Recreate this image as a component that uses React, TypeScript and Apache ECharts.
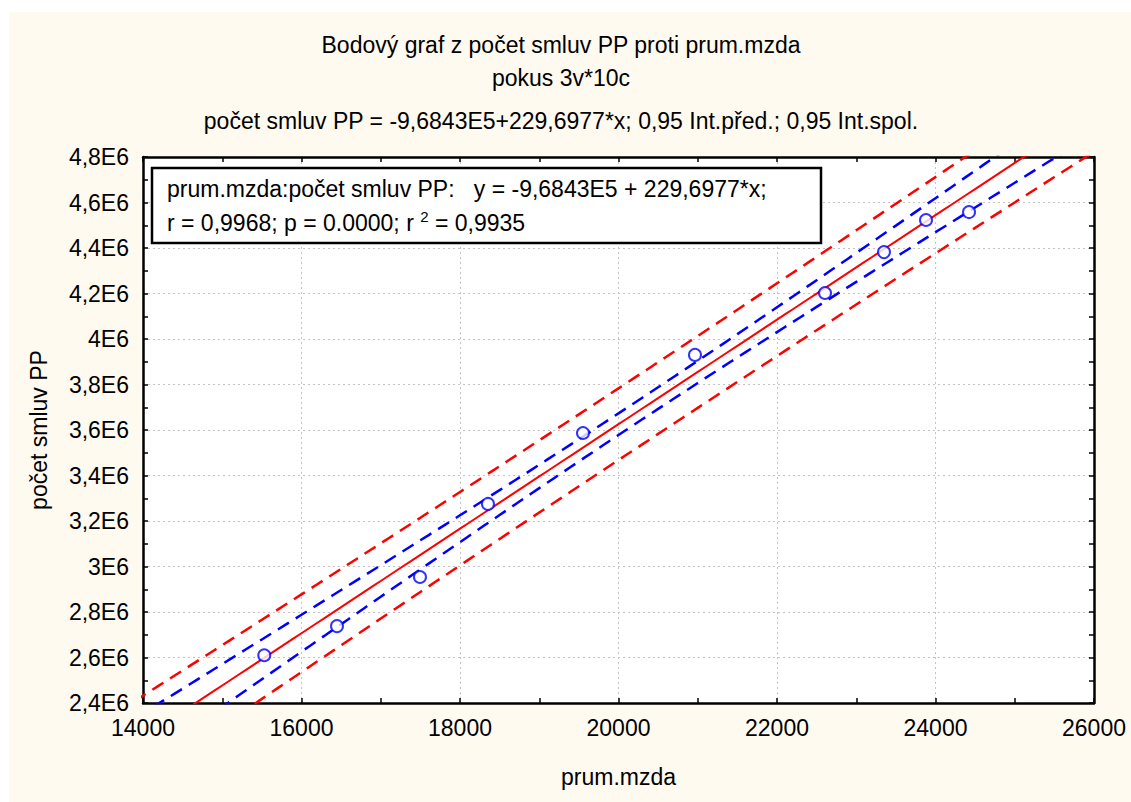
import React, { useEffect, useRef } from "react";
import * as echarts from "echarts";

// prum.mzda (x) and počet smluv PP (y), one entry per case
const PRUM_MZDA = [15530, 16448, 17495, 18353, 19552, 20965, 22606, 23350, 23880, 24423];
const POCET_SMLUV = [2610000, 2738000, 2954000, 3275000, 3587000, 3930000, 4202000, 4382000, 4523000, 4558000];

// fitted line as reported: y = -9,6843E5 + 229,6977*x
const INTERCEPT = -968430;
const SLOPE = 229.6977;
// two-sided 0.95 t quantile for n - 2 = 8 degrees of freedom
const T_975_DF8 = 2.306;

const X_TICK_LABELS = ["14000", "16000", "18000", "20000", "22000", "24000", "26000"];
const Y_TICKS = [2400000, 2600000, 2800000, 3000000, 3200000, 3400000, 3600000, 3800000, 4000000, 4200000, 4400000, 4600000, 4800000];
const Y_TICK_LABELS = ["2,4E6", "2,6E6", "2,8E6", "3E6", "3,2E6", "3,4E6", "3,6E6", "3,8E6", "4E6", "4,2E6", "4,4E6", "4,6E6", "4,8E6"];

const TITLE_LINES = [
  "Bodový graf z počet smluv PP proti prum.mzda",
  "pokus 3v*10c",
  "počet smluv PP = -9,6843E5+229,6977*x; 0,95 Int.před.; 0,95 Int.spol.",
];

const FONT = "'Liberation Sans', Arial, sans-serif";
const FS = 23;

// regression line and 0.95 confidence / prediction bands from the sample
function buildBands() {
  const n = PRUM_MZDA.length;
  const meanX = PRUM_MZDA.reduce((a, b) => a + b, 0) / n;
  const sxx = PRUM_MZDA.reduce((a, x) => a + (x - meanX) * (x - meanX), 0);
  const ssr = PRUM_MZDA.reduce((a, x, i) => {
    const r = POCET_SMLUV[i] - (INTERCEPT + SLOPE * x);
    return a + r * r;
  }, 0);
  const s = Math.sqrt(ssr / (n - 2));
  const fit: number[][] = [];
  const confLo: number[][] = [];
  const confHi: number[][] = [];
  const predLo: number[][] = [];
  const predHi: number[][] = [];
  for (let x = 13000; x <= 27000; x += 100) {
    const yhat = INTERCEPT + SLOPE * x;
    const lev = 1 / n + ((x - meanX) * (x - meanX)) / sxx;
    const c = T_975_DF8 * s * Math.sqrt(lev);
    const p = T_975_DF8 * s * Math.sqrt(1 + lev);
    fit.push([x, yhat]);
    confLo.push([x, yhat - c]);
    confHi.push([x, yhat + c]);
    predLo.push([x, yhat - p]);
    predHi.push([x, yhat + p]);
  }
  return { fit, confLo, confHi, predLo, predHi };
}

export default function App() {
  const ref = useRef<HTMLDivElement>(null);

  useEffect(() => {
    if (!ref.current) return;
    const chart = echarts.init(ref.current, undefined, { renderer: "svg" });
    const { fit, confLo, confHi, predLo, predHi } = buildBands();
    const points = PRUM_MZDA.map((x, i) => [x, POCET_SMLUV[i]]);

    const tickStyle = { inside: true, length: 5, lineStyle: { color: "#000", width: 1.5 } };
    const minorStyle = { show: true, splitNumber: 2, length: 5, lineStyle: { color: "#000", width: 1.5 } };
    const axisLine = { show: true, onZero: false, lineStyle: { color: "#000", width: 2.5 } };
    const grid = { type: [2, 3], color: "#c4c4c4", width: 1 };

    const dashed = (data: number[][], color: string) => ({
      type: "line",
      data,
      showSymbol: false,
      symbol: "none",
      clip: true,
      lineStyle: { color, width: 2.5, type: [13, 8] },
      z: 3,
    });

    chart.setOption({
      animation: false,
      backgroundColor: "#ffffff",
      textStyle: { fontFamily: FONT },
      grid: {
        left: 143,
        top: 157,
        width: 951,
        height: 546,
        show: true,
        backgroundColor: "#ffffff",
        borderWidth: 0,
      },
      xAxis: [
        {
          type: "value",
          min: 14000,
          max: 26000,
          interval: 2000,
          position: "bottom",
          axisLine,
          axisTick: tickStyle,
          minorTick: minorStyle,
          splitLine: { show: true, lineStyle: grid },
          axisLabel: {
            margin: 13,
            color: "#000",
            fontSize: FS,
            fontFamily: FONT,
            formatter: (v: number) => X_TICK_LABELS[Math.round((v - 14000) / 2000)] ?? "",
          },
          name: "prum.mzda",
          nameLocation: "middle",
          nameGap: 62,
          nameTextStyle: { color: "#000", fontSize: FS, fontFamily: FONT },
        },
        {
          type: "value",
          min: 14000,
          max: 26000,
          interval: 2000,
          position: "top",
          axisLine,
          axisTick: tickStyle,
          minorTick: minorStyle,
          splitLine: { show: false },
          axisLabel: { show: false },
        },
      ],
      yAxis: [
        {
          type: "value",
          min: 2400000,
          max: 4800000,
          interval: 200000,
          position: "left",
          axisLine,
          axisTick: tickStyle,
          minorTick: minorStyle,
          splitLine: { show: true, lineStyle: grid },
          axisLabel: {
            margin: 14,
            color: "#000",
            fontSize: FS,
            fontFamily: FONT,
            formatter: (v: number) => {
              const i = Y_TICKS.findIndex((t) => Math.abs(t - v) < 1);
              return i >= 0 ? Y_TICK_LABELS[i] : "";
            },
          },
          name: "počet smluv PP",
          nameLocation: "middle",
          nameGap: 93,
          nameTextStyle: { color: "#000", fontSize: FS, fontFamily: FONT },
        },
        {
          type: "value",
          min: 2400000,
          max: 4800000,
          interval: 200000,
          position: "right",
          axisLine,
          axisTick: tickStyle,
          minorTick: minorStyle,
          splitLine: { show: false },
          axisLabel: { show: false },
        },
      ],
      series: [
        dashed(predLo, "#ff0000"),
        dashed(predHi, "#ff0000"),
        dashed(confLo, "#0000ff"),
        dashed(confHi, "#0000ff"),
        {
          type: "line",
          data: fit,
          showSymbol: false,
          symbol: "none",
          clip: true,
          lineStyle: { color: "#ff0000", width: 2 },
          z: 4,
        },
        {
          type: "scatter",
          data: points,
          symbol: "emptyCircle",
          symbolSize: 12,
          itemStyle: { color: "#0000ff", borderColor: "#0000ff", borderWidth: 2.5 },
          z: 5,
        },
      ],
      graphic: [
        {
          type: "rect",
          z: -100,
          silent: true,
          shape: { x: 9, y: 12, width: 1122, height: 790 },
          style: { fill: "#fffaf0" },
        },
        ...TITLE_LINES.map((t, i) => ({
          type: "text",
          x: 561,
          y: [45, 78, 121][i],
          style: {
            text: t,
            fill: "#000",
            font: `${FS}px ${FONT}`,
            textAlign: "center",
            textVerticalAlign: "middle",
          },
        })),
        {
          type: "rect",
          z: 100,
          shape: { x: 152, y: 168, width: 669, height: 75 },
          style: { fill: "#ffffff", stroke: "#000", lineWidth: 2.5 },
        },
        {
          type: "text",
          z: 101,
          x: 167,
          y: 189,
          style: {
            text: "prum.mzda:počet smluv PP:   y = -9,6843E5 + 229,6977*x;",
            fill: "#000",
            font: `${FS}px ${FONT}`,
            textVerticalAlign: "middle",
          },
        },
        {
          type: "text",
          z: 101,
          x: 167,
          y: 223,
          style: {
            text: "{a|r = 0,9968; p = 0.0000; r }{s|2}{a| = 0,9935}",
            verticalAlign: "middle",
            rich: {
              a: { fontSize: FS, fontFamily: FONT, color: "#000", lineHeight: 28 },
              s: { fontSize: 15, fontFamily: FONT, color: "#000", lineHeight: 28, verticalAlign: "top" },
            },
          },
        },
      ],
    });

    return () => chart.dispose();
  }, []);

  return (
    <div
      ref={ref}
      style={{ position: "fixed", left: 0, top: 0, width: 1131, height: 802 }}
    />
  );
}
